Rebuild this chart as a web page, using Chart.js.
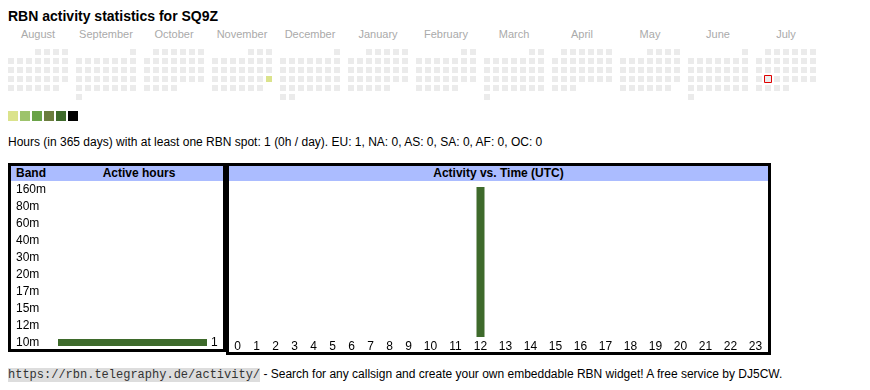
<!DOCTYPE html>
<html>
<head>
<meta charset="utf-8">
<script src="https://cdn.jsdelivr.net/npm/chart.js@4/dist/chart.umd.min.js"></script>
<style>
  body { margin: 0; background: #fff; font-family: "Liberation Sans", Arial, sans-serif; color: #000; }
  .abs { position: absolute; }
  #title { left: 8px; top: 8px; font-size: 14px; font-weight: bold; }
  .month { top: 28px; width: 60px; text-align: center; font-size: 11px; color: #aaa; }
  .lg { top: 111px; width: 10px; height: 10px; }
  #summary { left: 8px; top: 135px; font-size: 12px; }
  .box { box-sizing: border-box; border: 3px solid #000; }
  .head { background: #abbcff; height: 15px; font-size: 12px; font-weight: bold; line-height: 15px; }
  #footer { left: 8px; top: 367px; font-size: 12px; line-height: 14px; white-space: nowrap; }
  #footer code { font-family: "Liberation Mono", "Courier New", monospace; background: #ddd; color: #333; font-size: 12px; }
</style>
</head>
<body>
<div id="title" class="abs">RBN activity statistics for SQ9Z</div>
<div id="months"></div>
<canvas id="cal" class="abs" style="left:0;top:40px" width="870" height="65"></canvas>
<div id="legend"></div>
<div id="summary" class="abs">Hours (in 365 days) with at least one RBN spot: 1 (0h / day). EU: 1, NA: 0, AS: 0, SA: 0, AF: 0, OC: 0</div>

<div class="abs box" style="left:8px;top:163px;width:218px;height:189px">
  <div class="head" style="position:relative">
    <span style="position:absolute;left:5px">Band</span>
    <span style="position:absolute;left:47px;width:162px;text-align:center">Active hours</span>
  </div>
</div>
<div class="abs box" style="left:226px;top:163px;width:545px;height:192px">
  <div class="head" style="text-align:center">Activity vs. Time (UTC)</div>
</div>
<canvas id="bands" class="abs" style="left:11px;top:181px" width="212" height="170"></canvas>
<canvas id="hours" class="abs" style="left:228px;top:181px" width="540" height="171"></canvas>

<div id="footer" class="abs"><code>https://rbn.telegraphy.de/activity/</code> - Search for any callsign and create your own embeddable RBN widget! A free service by DJ5CW.</div>

<script>
// Data
const months = ['August', 'September', 'October', 'November', 'December', 'January',
                'February', 'March', 'April', 'May', 'June', 'July'];
const monthYears = [2024, 2024, 2024, 2024, 2024, 2025, 2025, 2025, 2025, 2025, 2025, 2025];
const monthNums = [8, 9, 10, 11, 12, 1, 2, 3, 4, 5, 6, 7];
const activeDays = ['2024-11-24'];
const activeLevels = [1];
const today = '2025-07-22';
const levelColors = ['#dbe38c', '#9dc36c', '#6aa348', '#6b7d3e', '#3e6a2b', '#000000'];
const emptyColor = '#ebebeb';

const bands = ['160m', '80m', '60m', '40m', '30m', '20m', '17m', '15m', '12m', '10m'];
const bandHours = [0, 0, 0, 0, 0, 0, 0, 0, 0, 1];

const hours = [0, 1, 2, 3, 4, 5, 6, 7, 8, 9, 10, 11, 12, 13, 14, 15, 16, 17, 18, 19, 20, 21, 22, 23];
const hourActivity = [0, 0, 0, 0, 0, 0, 0, 0, 0, 0, 0, 0, 1, 0, 0, 0, 0, 0, 0, 0, 0, 0, 0, 0];

const barGreen = '#3e6a2b';
Chart.defaults.font.family = '"Liberation Sans", Arial, sans-serif';
Chart.defaults.color = '#000';

// Calendar layout
const BLOCK = 68, CELL = 9, X0 = 11, Y0 = 12;

const monthsEl = document.getElementById('months');
months.forEach((m, i) => {
    const s = document.createElement('div');
    s.className = 'abs month';
    s.style.left = (8 + i * BLOCK) + 'px';
    s.textContent = m;
    monthsEl.appendChild(s);
});

const legendEl = document.getElementById('legend');
levelColors.forEach((c, i) => {
    const d = document.createElement('div');
    d.className = 'abs lg';
    d.style.left = (8 + i * 12) + 'px';
    d.style.background = c;
    legendEl.appendChild(d);
});

const pad = n => String(n).padStart(2, '0');
const calPoints = [], calColors = [], todayPoint = [];
months.forEach((m, i) => {
    const y = monthYears[i], mo = monthNums[i];
    const first = (new Date(Date.UTC(y, mo - 1, 1)).getUTCDay() + 6) % 7;
    const days = new Date(Date.UTC(y, mo, 0)).getUTCDate();
    for (let d = 1; d <= days; d++) {
        const slot = first + d - 1;
        const pt = { x: X0 + i * BLOCK + (slot % 7) * CELL, y: Y0 + Math.floor(slot / 7) * CELL };
        const key = `${y}-${pad(mo)}-${pad(d)}`;
        const a = activeDays.indexOf(key);
        calPoints.push(pt);
        calColors.push(a >= 0 ? levelColors[activeLevels[a] - 1] : emptyColor);
        if (key === today) todayPoint.push(pt);
    }
});

new Chart(document.getElementById('cal'), {
    type: 'scatter',
    data: {
        datasets: [
            { data: todayPoint, pointStyle: 'rect', pointRadius: 7 / (2 * Math.SQRT1_2),
              backgroundColor: emptyColor, borderColor: '#e00000', borderWidth: 1 },
            { data: calPoints, pointStyle: 'rect', pointRadius: 6 / (2 * Math.SQRT1_2),
              backgroundColor: calColors, borderWidth: 0 }
        ]
    },
    options: {
        responsive: false, animation: false, events: [],
        layout: { padding: 0, autoPadding: false },
        plugins: { legend: { display: false }, tooltip: { enabled: false } },
        scales: {
            x: { type: 'linear', display: false, min: 0, max: 870 },
            y: { type: 'linear', display: false, min: 0, max: 65, reverse: true }
        }
    }
});

// Bar value labels
const valueLabels = {
    id: 'valueLabels',
    afterDatasetsDraw(chart) {
        const ctx = chart.ctx;
        chart.getDatasetMeta(0).data.forEach((bar, i) => {
            const v = chart.data.datasets[0].data[i];
            if (!v) return;
            ctx.save();
            ctx.font = '12px "Liberation Sans", Arial, sans-serif';
            ctx.fillStyle = '#000';
            ctx.textBaseline = 'middle';
            ctx.fillText(String(v), bar.x + 4, bar.y);
            ctx.restore();
        });
    }
};

new Chart(document.getElementById('bands'), {
    type: 'bar',
    data: { labels: bands, datasets: [{ data: bandHours, backgroundColor: barGreen, barThickness: 7, inflateAmount: 0 }] },
    options: {
        indexAxis: 'y', responsive: false, animation: false, events: [],
        layout: { padding: { left: 5, right: 16, top: 0, bottom: 0 }, autoPadding: false },
        plugins: { legend: { display: false }, tooltip: { enabled: false } },
        scales: {
            x: { display: false, min: 0, max: Math.max(...bandHours) },
            y: {
                grid: { display: false, drawTicks: false }, border: { display: false },
                ticks: { autoSkip: false, crossAlign: 'far', font: { size: 12 }, color: '#000', padding: 0 },
                afterFit(scale) {
                    scale.width = 42;
                    scale.paddingTop = 0;
                    scale.paddingBottom = 0;
                }
            }
        }
    },
    plugins: [valueLabels]
});

// Hour columns: two-digit hours take wider table cells
const colWidth = h => (String(h).length === 1 ? 19 : 25);
const colCenters = [];
hours.reduce((left, h) => { colCenters.push(left + colWidth(h) / 2); return left + colWidth(h); }, 0);

new Chart(document.getElementById('hours'), {
    type: 'bar',
    data: {
        datasets: [{
            data: hours.map((h, i) => ({ x: colCenters[i], y: hourActivity[i] })),
            backgroundColor: barGreen, barThickness: 8, inflateAmount: 0
        }]
    },
    options: {
        responsive: false, animation: false, events: [],
        layout: { padding: { top: 6, left: 0, right: 0, bottom: 0 }, autoPadding: false },
        plugins: { legend: { display: false }, tooltip: { enabled: false } },
        scales: {
            x: {
                type: 'linear', min: 0, max: 540, offset: false,
                grid: { display: false, drawTicks: false }, border: { display: false },
                afterBuildTicks(scale) { scale.ticks = colCenters.map(v => ({ value: v })); },
                ticks: {
                    autoSkip: false, maxRotation: 0, padding: 2, font: { size: 12 }, color: '#000',
                    callback: (v, i) => String(hours[i])
                },
                afterFit(scale) { scale.height = 15; }
            },
            y: { display: false, min: 0, max: Math.max(...hourActivity) }
        }
    }
});
</script>
</body>
</html>
